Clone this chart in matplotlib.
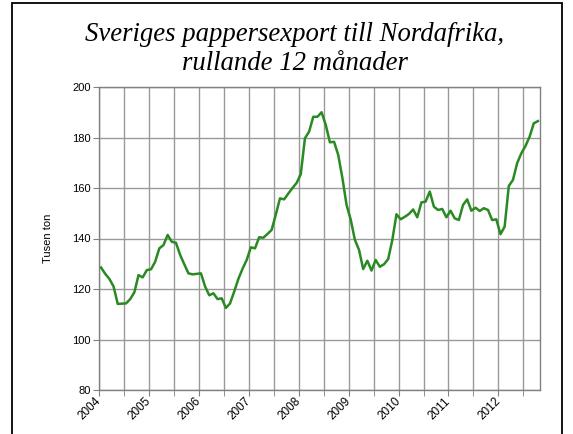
import matplotlib
matplotlib.use("Agg")
import matplotlib.pyplot as plt
from matplotlib.patches import Rectangle

# monthly rolling 12-month export, thousand tonnes, Jan 2004 - Oct 2012
values = [
    128.5, 126.0, 124.0, 121.0, 114.1, 114.2, 114.3, 116.0, 118.7, 125.5,
    124.6, 127.5, 127.8, 130.8, 136.1, 137.4, 141.4, 138.7, 138.3, 133.5,
    129.8, 126.2, 125.8, 126.0, 126.2, 121.0, 117.5, 118.3, 116.0, 116.3,
    112.5, 114.3, 119.0, 124.0, 128.0, 131.5, 136.5, 136.1, 140.5, 140.3,
    141.8, 143.4, 149.5, 155.9, 155.5, 157.8, 160.0, 162.0, 165.5, 179.7,
    182.3, 188.2, 188.2, 190.0, 185.0, 178.1, 178.3, 173.1, 164.0, 153.3,
    147.5, 139.5, 135.5, 127.9, 131.2, 127.3, 131.5, 128.8, 129.8, 131.8,
    139.4, 149.6, 147.6, 148.6, 149.7, 151.5, 148.4, 154.3, 154.6, 158.6,
    152.6, 151.3, 151.7, 148.4, 151.0, 148.0, 147.3, 153.3, 155.5, 151.0,
    152.2, 150.9, 152.0, 151.3, 147.3, 147.6, 141.7, 144.7, 160.8, 163.2,
    169.8, 173.7, 176.6, 180.3, 185.6, 186.5,
]
years = ["2004", "2005", "2006", "2007", "2008", "2009", "2010", "2011", "2012"]

plt.rcParams["font.family"] = ["Liberation Sans", "DejaVu Sans"]

fig = plt.figure(figsize=(5.73, 4.34), dpi=100)
ax = fig.add_axes([99 / 573, 1 - 390 / 434, 441 / 573, 303 / 434])

x = list(range(len(values)))
ax.plot(x, values, color="#2a8a22", linewidth=1.8, zorder=3)

ax.set_xlim(-0.5, len(values) - 0.5)
ax.set_ylim(80, 200)
ax.set_yticks(range(80, 201, 20))
ax.tick_params(axis="y", labelsize=8, length=4, color="#808080", pad=2)

grid_pos = [-0.5 + 6 * i for i in range(18)]
ax.set_xticks(grid_pos, minor=True)
ax.set_xticks([-0.5 + 12 * i for i in range(len(years))])
ax.set_xticklabels(years, rotation=45, ha="right", va="center",
                   rotation_mode="anchor", fontsize=8.5)
ax.tick_params(axis="x", which="both", length=4, color="#808080", pad=3)

ax.grid(True, which="both", axis="x", color="#999999", linewidth=1)
ax.grid(True, which="major", axis="y", color="#999999", linewidth=1)
for s in ax.spines.values():
    s.set_color("#808080")
    s.set_linewidth(1)

ax.set_ylabel("Tusen ton", fontsize=8, labelpad=14)

fig.text(295 / 573, 1 - 49 / 434,
         "Sveriges pappersexport till Nordafrika,\nrullande 12 månader",
         ha="center", va="center", fontsize=19.3, style="italic",
         family=["Liberation Serif", "DejaVu Serif"], linespacing=1.2)

fig.patches.append(Rectangle((11.5 / 573, -0.05), (562 - 11.5) / 573, 1.05 - 3 / 434,
                             transform=fig.transFigure, fill=False,
                             edgecolor="black", linewidth=1.3))

fig.savefig("out.png", dpi=100)
